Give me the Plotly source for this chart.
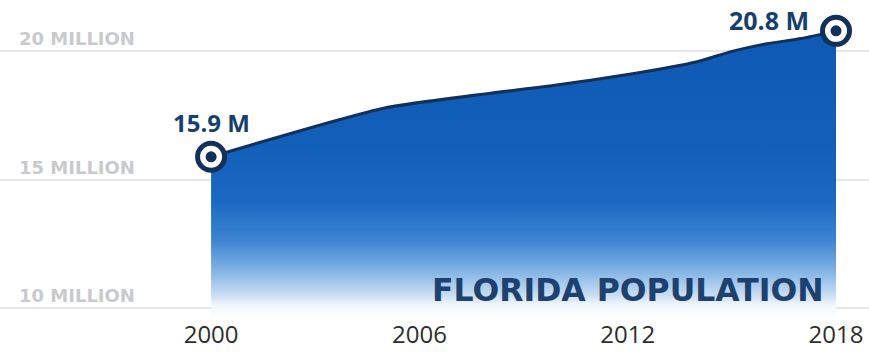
import plotly.graph_objects as go

# Florida population, millions
years = [2000, 2005, 2010, 2012, 2014, 2015, 2016, 2017, 2018]
population = [15.9, 17.8, 18.7, 19.1, 19.6, 20.0, 20.3, 20.5, 20.8]

x_ticks = [2000, 2006, 2012, 2018]
y_ticks = [10, 15, 20]
y_tick_text = ["10 MILLION", "15 MILLION", "20 MILLION"]
title_text = "FLORIDA POPULATION"

NAVY = "#173f6c"
LINE_NAVY = "#11305a"
Y_MIN, Y_MAX = 9.63, 22.0

fig = go.Figure()

# gradient-filled area under the population line
fig.add_trace(go.Scatter(
    x=years, y=population, mode="lines",
    line=dict(color=LINE_NAVY, width=3, shape="spline", smoothing=0.5),
    fill="tozeroy",
    fillgradient=dict(
        type="vertical",
        start=Y_MIN, stop=max(population),
        colorscale=[
            [0.0, "#ffffff"],
            [0.045, "#f2f7fc"],
            [0.08, "#c8def3"],
            [0.17, "#7db0e3"],
            [0.27, "#3d85d2"],
            [0.41, "#1b68c2"],
            [0.6, "#125fba"],
            [1.0, "#0e59b4"],
        ],
    ),
    hoverinfo="skip", showlegend=False,
))

# ring markers at the first and last year
end_x = [years[0], years[-1]]
end_y = [population[0], population[-1]]
fig.add_trace(go.Scatter(
    x=end_x, y=end_y, mode="markers",
    marker=dict(symbol="circle", size=27, color="white",
                line=dict(color=LINE_NAVY, width=5)),
    showlegend=False, hoverinfo="skip",
))
fig.add_trace(go.Scatter(
    x=end_x, y=end_y, mode="markers",
    marker=dict(symbol="circle", size=11, color=LINE_NAVY),
    showlegend=False, hoverinfo="skip",
))

label_font = dict(family="Open Sans", size=24, color=NAVY, weight="bold")
fig.add_annotation(
    x=end_x[0], y=end_y[0], text=f"{end_y[0]:.1f} M", showarrow=False,
    xanchor="center", yanchor="middle", yshift=34, font=label_font,
)
fig.add_annotation(
    x=end_x[1], y=end_y[1], text=f"{end_y[1]:.1f} M", showarrow=False,
    xanchor="right", yanchor="middle", xshift=-25, yshift=11,
    font=dict(label_font, size=25),
)
fig.add_annotation(
    xref="paper", yref="paper", x=0.9505, y=0.088,
    text=title_text, showarrow=False, xanchor="right", yanchor="middle",
    font=dict(family="DejaVu Sans", size=31.5, color="#1d4270", weight="bold"),
)

fig.update_layout(
    template="none",
    width=869, height=354,
    margin=dict(l=0, r=0, t=0, b=36, pad=0),
    paper_bgcolor="white", plot_bgcolor="white",
    showlegend=False,
    xaxis=dict(
        range=[1993.92, 2018.95],
        tickvals=x_ticks, ticktext=[str(v) for v in x_ticks],
        tickfont=dict(family="Open Sans", size=24, color="#2e2e2e"),
        ticks="", ticklen=0,
        showgrid=False, zeroline=False, showline=False, automargin=False,
    ),
    yaxis=dict(
        range=[Y_MIN, Y_MAX],
        tickvals=y_ticks, ticktext=y_tick_text,
        ticklabelposition="inside top",
        ticklabelstandoff=16,
        tickfont=dict(family="DejaVu Sans", size=18, color="#c8cacd", weight="bold"),
        showgrid=True, gridcolor="#e6e6e6", gridwidth=1.5,
        zeroline=False, showline=False, ticks="", automargin=False,
    ),
)

fig.write_html("out.html")
